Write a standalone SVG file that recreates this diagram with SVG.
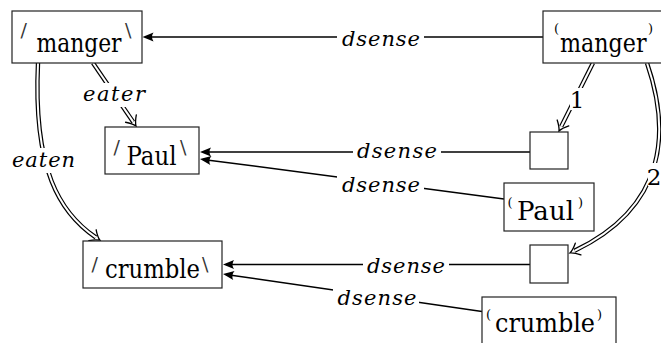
<svg xmlns="http://www.w3.org/2000/svg" width="661" height="343" viewBox="0 0 661 343">
<style>
.box{fill:#fff;stroke:#222;stroke-width:1.2}
.nt{font-size:26px;fill:#000}
.sl{font-size:19px;fill:#333}
.pr{font-size:13px;fill:#000}
.lb{font-size:21px;font-style:italic;fill:#000;text-anchor:middle}
.num{font-size:23px;fill:#000;text-anchor:middle}
.ln{fill:none;stroke:#000;stroke-width:1.5}
.dO{fill:none;stroke:#000;stroke-width:4.4}
.dI{fill:none;stroke:#fff;stroke-width:2}
.bg{fill:#fff;stroke:none}
</style>
<defs>
<marker id="ah" markerUnits="userSpaceOnUse" orient="auto" refX="0" refY="0" markerWidth="20" markerHeight="20" overflow="visible">
<path d="M3,0 L-8,-4.5 Q-5,0 -8,4.5 Z" fill="#000"/>
</marker>
<marker id="imp" markerUnits="userSpaceOnUse" orient="auto" refX="0" refY="0" markerWidth="20" markerHeight="20" overflow="visible">
<path d="M-4,-6.5 Q1,-1.5 5,0 Q1,1.5 -4,6.5" fill="none" stroke="#000" stroke-width="1.3" stroke-linecap="round"/>
</marker>
</defs>
<g font-family="DejaVu Serif, serif">
<g id="connectors">
<path class="ln" d="M543,37 L145.5,37" marker-end="url(#ah)"/>
<path class="ln" d="M530,152 L203,152" marker-end="url(#ah)"/>
<path class="ln" d="M504,199 L202.97,159.39" marker-end="url(#ah)"/>
<path class="ln" d="M530,264.5 L226,264.5" marker-end="url(#ah)"/>
<path class="ln" d="M482,311.5 L225.97,274.43" marker-end="url(#ah)"/>
<path class="dO" d="M93,63 L133.2,121.9"/>
<path class="dI" d="M93,63 L133.2,121.9" marker-end="url(#imp)"/>
<path class="dO" d="M38,63 C33,170 60,213 95.8,237.4"/>
<path class="dI" d="M38,63 C33,170 60,213 95.8,237.4" marker-end="url(#imp)"/>
<path class="dO" d="M593,63 L561.2,126.5"/>
<path class="dI" d="M593,63 L561.2,126.5" marker-end="url(#imp)"/>
<path class="dO" d="M647,63 C670,130 668,206 574.5,250.8"/>
<path class="dI" d="M647,63 C670,130 668,206 574.5,250.8" marker-end="url(#imp)"/>
<rect class="bg" x="337" y="25" width="87" height="24"/>
<text class="lb" x="381" y="46" textLength="78">dsense</text>
<rect class="bg" x="353" y="140" width="88" height="24"/>
<text class="lb" x="397" y="158" textLength="80">dsense</text>
<rect class="bg" x="337" y="172" width="87" height="25"/>
<text class="lb" x="381" y="192" textLength="78">dsense</text>
<rect class="bg" x="363" y="253" width="86" height="25"/>
<text class="lb" x="406" y="273" textLength="78">dsense</text>
<rect class="bg" x="333" y="285" width="86" height="25"/>
<text class="lb" x="377" y="305" textLength="79">dsense</text>
<rect class="bg" x="84" y="83" width="61" height="24"/>
<text class="lb" x="114" y="101" textLength="62">eater</text>
<rect class="bg" x="11" y="148" width="65" height="25"/>
<text class="lb" x="43.5" y="167" textLength="63">eaten</text>
<rect class="bg" x="570" y="88" width="15" height="22"/>
<text class="num" x="577" y="108">1</text>
<rect class="bg" x="648" y="163" width="13" height="23"/>
<text class="num" x="654" y="185">2</text>
</g>

<g id="n-manger-top">
<rect class="box" x="12" y="11" width="130" height="52"/>
<text class="sl" x="20.5" y="37">/</text>
<text class="nt" x="36.5" y="52" textLength="85" lengthAdjust="spacingAndGlyphs">manger</text>
<text class="sl" x="125" y="37">\</text>
</g>
<g id="n-manger-paren">
<rect class="box" x="543" y="11" width="125" height="52"/>
<text class="pr" x="554" y="33">(</text>
<text class="nt" x="560" y="52" textLength="86.5" lengthAdjust="spacingAndGlyphs">manger</text>
<text class="pr" x="648" y="33">)</text>
</g>
<g id="n-paul-top">
<rect class="box" x="105" y="127" width="94" height="47"/>
<text class="sl" x="113.5" y="154">/</text>
<text class="nt" x="126.5" y="164.5" textLength="50" lengthAdjust="spacingAndGlyphs">Paul</text>
<text class="sl" x="180" y="154">\</text>
</g>
<g id="n-box1">
<rect class="box" x="530" y="132" width="38" height="37"/>
</g>
<g id="n-paul-paren">
<rect class="box" x="504" y="183" width="90" height="48"/>
<text class="pr" x="507.5" y="207">(</text>
<text class="nt" x="517" y="219.5" textLength="57" lengthAdjust="spacingAndGlyphs">Paul</text>
<text class="pr" x="578" y="207">)</text>
</g>
<g id="n-crumble-top">
<rect class="box" x="83" y="241" width="139" height="47"/>
<text class="sl" x="91.5" y="271">/</text>
<text class="nt" x="105" y="277.5" textLength="95" lengthAdjust="spacingAndGlyphs">crumble</text>
<text class="sl" x="202" y="271">\</text>
</g>
<g id="n-box2">
<rect class="box" x="530" y="245" width="38" height="38"/>
</g>
<g id="n-crumble-paren">
<rect class="box" x="482" y="297" width="134" height="56"/>
<text class="pr" x="486" y="319">(</text>
<text class="nt" x="495" y="332" textLength="100" lengthAdjust="spacingAndGlyphs">crumble</text>
<text class="pr" x="597" y="319">)</text>
</g>
</g>
</svg>
